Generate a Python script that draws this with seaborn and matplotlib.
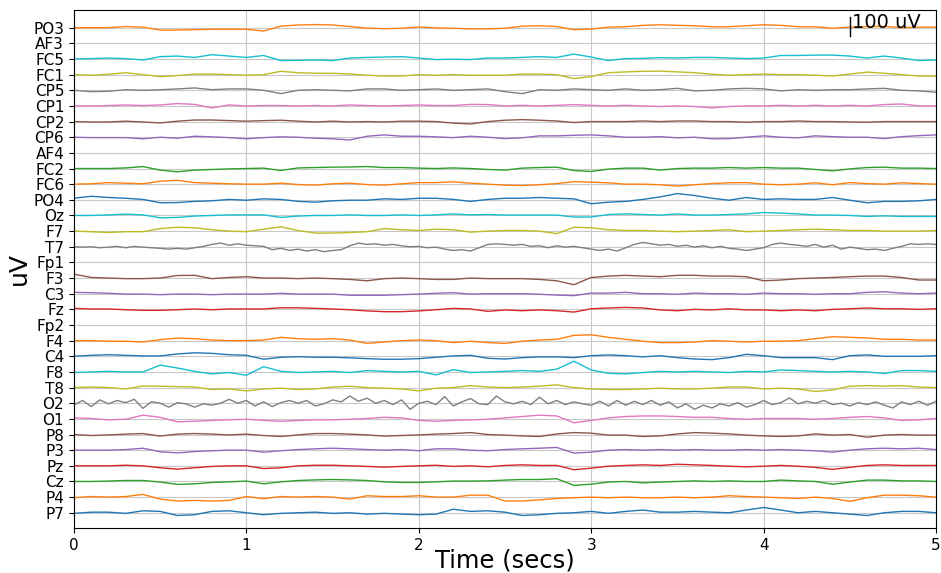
import numpy as np
import pandas as pd
import matplotlib
matplotlib.use('Agg')
import matplotlib.pyplot as plt
import seaborn as sns

# channel names, bottom of the plot first
channels = ['P7', 'P4', 'Cz', 'Pz', 'P3', 'P8', 'O1', 'O2', 'T8', 'F8', 'C4', 'F4',
            'Fp2', 'Fz', 'C3', 'F3', 'Fp1', 'T7', 'F7', 'Oz', 'PO4', 'FC6', 'FC2',
            'AF4', 'CP6', 'CP2', 'CP1', 'CP5', 'FC1', 'FC5', 'AF3', 'PO3']

# deviations from each channel's baseline in uV, evenly spaced over 0..5 s
po3 = [0, 0, 0, 6, 3, -12, -12, -10, -8, -8, -8, -17, 8, 14, 16, 14, 6, -2, -5, -3,
       4, -1, -3, -6, -6, -3, 8, 10, 6, -10, -7, 3, 5, 12, 15, 12, 10, 5, 5, 10,
       15, 12, 5, 5, -3, 3, 5, 7, 0, 3, 3]
af3 = []
fc5 = [0, 2, 5, 2, -5, 12, 15, 8, 22, 15, 8, 18, -8, -7, -5, -8, 5, 8, 10, 12,
       5, -3, -1, -3, 5, 5, 8, 12, 8, 25, 10, -8, 2, 3, 7, 5, 8, 8, 5, 2,
       5, 18, 18, 20, 20, 15, 5, 15, 5, -8, -5]
fc1 = [0, -3, 2, 10, 0, -10, -5, 3, 3, 0, -3, 0, 17, 10, 7, 7, 3, -3, -7, -7,
       0, -3, 0, -3, -3, -3, 3, 3, 0, -20, -10, 10, 14, 17, 18, 14, 10, 2, -3, 0,
       3, 0, 0, -3, -7, 3, 13, 7, 0, -7, -8]
cp5 = [0, -7, -5, 3, 0, 3, 7, 12, 3, 7, 7, 0, -17, 0, 3, 0, -3, 7, 7, 0,
       3, 7, 0, 3, 7, -7, -17, 3, 0, 7, 3, 0, 7, 0, 3, 10, -3, 0, 7, 10,
       7, -3, 3, 0, 3, 3, 7, 10, 0, -3, -10]
cp1 = [0, 0, 2, 5, 2, 5, 12, 8, -10, 5, 0, 2, 2, 0, 2, 0, 5, 2, 0, 2,
       5, 2, 2, 8, 7, 0, 3, 0, 3, 7, 3, 0, 3, 0, -3, 0, -3, -10, -3, 0,
       0, 3, 0, 3, 0, 3, 0, 7, 10, 0, 0]
cp2 = [0, -2, -2, 2, -2, -7, 2, 8, 8, 5, 2, 5, 7, 2, -2, 2, -2, 0, -2, 2,
       2, 0, -8, -12, 0, 7, 10, 7, 3, -5, 0, 0, 0, 3, 0, 3, 3, 0, 0, -3,
       0, 0, 3, 0, 0, -2, -3, 0, 0, 0, 0]
cp6 = [0, -2, -2, -2, -8, 0, -5, 5, 2, -2, -8, -2, 2, 0, -5, -8, -14, 5, 12, 5,
       5, 2, -2, 5, 0, -7, -3, 7, 7, 10, 12, 7, 0, 0, 3, -3, 0, -8, -7, 0,
       7, 0, -3, 7, 3, 0, 0, -7, 3, 8, 12]
af4 = []
fc2 = [0, 0, 0, 3, 10, -8, -17, -8, -5, -2, 0, 2, -10, 3, 5, 7, 8, 10, 5, 5,
       2, 0, 3, 0, -5, -8, 2, 5, 7, -10, -15, -3, 2, 2, -8, 0, 2, 2, 5, 2,
       5, 2, 2, -5, -12, -2, 5, 7, 2, 2, 0]
fc6 = [0, 2, 8, 5, 2, 15, 20, 8, 5, 2, 0, 0, 5, -2, -5, 2, 5, -2, -5, 2,
       8, 8, 12, 5, 0, -5, -7, -3, 3, 13, 10, 7, 0, 0, -3, -10, -3, 3, 7, 8,
       0, -3, 0, 7, -3, 8, 3, 0, 7, 3, 0]
po4 = [8, 18, 12, 8, 2, -15, -14, -8, -5, 2, -2, 5, 2, -8, -12, -5, -2, -2, 5, 2,
       8, 8, 2, -8, 2, 8, 8, 12, 8, 5, -20, -12, -8, 2, 15, 32, 22, 8, -2, 12,
       2, 5, 2, 2, 12, -2, -15, -8, -8, -5, 2]
oz = [0, 0, 3, 7, 3, -12, -10, -3, 0, 3, 3, 3, -10, -3, 0, 0, 3, 0, 0, 3,
      0, 3, 8, 3, 5, 2, 2, 2, 2, -8, -8, 5, 8, 5, 2, 8, 2, 2, 5, 8,
      15, 12, 8, 2, 2, 0, -5, -2, -5, -5, -5]
f7 = [0, -3, -7, -3, -3, 13, 20, 17, 7, 0, -3, 10, 22, 3, -10, -10, -7, -3, 13, 7,
      3, 10, 7, -5, 0, 3, 3, 0, -13, 20, 17, 7, 3, 3, 0, -3, 0, 3, 7, -3,
      0, 3, 7, 10, 7, 3, 3, 0, 0, 0, 3]
t7 = [0, -2, 0, -5, -2, 2, -5, 2, -2, -5, -8, -12, -8, -12, -5, 2, 12, 19, 8, 15,
      8, 5, 2, -15, -8, -19, -12, -22, -15, -25, -19, -15, 5, 19, 12, 15, 8, 12, 5, 0,
      2, -5, -2, -12, -19, -15, -22, -5, 12, 15, 12, 8, 12, 2, 5, -5, 5,
      -2, 2, -5, -12, -19, -12, -22, -5, 12, 22, 15, 8, 12, 2, 8, -2, 5, -5, 2, -8,
      -12, -19, -12, -5, 12, 19, 12, 8, 2, 12, -2, 8, -12, -2, -8, -15, -12, -19, -8, 2,
      15, 12, 15, 12]
fp1 = []
f3 = [20, 3, 0, -3, -3, 0, 13, 14, -3, 3, 7, 0, 0, -3, 0, -3, -7, -14, -3, 0,
      -3, -7, -7, 0, -3, -3, -3, -7, -14, -34, 3, 10, 14, 10, 7, 14, 14, 10, 10, 7,
      -14, -10, -3, 0, 3, 7, 10, 10, 3, -10, -10]
c3 = [7, 5, 2, -2, -2, -5, -2, -2, -5, -2, -2, -2, 2, -2, -2, -2, -8, -8, -8, -5,
      -2, 2, 5, -2, 0, 0, 0, -3, -7, -10, 3, 3, 7, 0, 0, -3, 3, 0, 0, -3,
      3, 0, 0, -3, 0, 0, 7, 10, 3, 0, 3]
fz = [5, 2, 2, -2, -5, -5, -2, 2, -2, 2, 2, 2, 8, 8, 5, 2, -2, -8, -12, -12,
      -8, -2, 5, 2, -10, -3, -7, -3, -7, -14, 3, 7, 10, 7, -3, -7, 0, -3, 3, -3,
      -3, -7, -3, -7, 0, 3, 7, 3, 3, 0, 3]
fp2 = []
f4 = [0, 0, -3, -3, -7, 5, 13, 10, 3, 0, 0, 3, 17, 10, 7, 10, 3, -14, -7, 0,
      3, 0, -10, -3, -10, -14, -3, 3, 7, 27, 30, 17, 7, -3, -10, -10, -7, 0, -3, -7,
      -3, -3, 0, 10, 20, 17, 14, 7, 7, 3, 3]
c4 = [0, 5, 8, 5, 2, 2, 12, 18, 15, 8, 5, -15, -5, -2, -5, -5, -8, -12, -15, -15,
      -12, -5, 2, 5, -10, -14, -7, -3, -3, -7, 3, 7, 3, -3, 3, -7, -14, -17, -7, 10,
      3, -7, -7, -7, -17, 3, 7, 0, 0, 0, 3]
f8 = [-3, 0, 3, 0, 0, 35, 20, 3, -10, -3, -17, 27, 3, -3, 0, 3, -3, 7, 3, 0,
      3, -15, 12, -3, 0, 3, 7, 3, 14, 55, 10, -7, -10, -3, 3, 0, 3, 0, -3, 3,
      0, 10, 7, 3, 0, 3, 0, -8, 7, 7, 3]
t8 = [0, 3, 0, -7, 8, 7, 5, 3, -10, -7, -17, -7, -3, -10, -7, 3, 7, 0, -3, -7,
      -17, -3, 0, 10, 3, 0, 3, 7, 14, 0, -7, -10, -10, -7, -3, -7, -7, -3, 3, 3,
      -7, -3, -7, -20, -12, 7, 10, 7, 10, 3, 0]
o2 = [-8, 14, -17, 17, -3, 14, 3, 20, -26, 8, 0, -20, 3, -3, -20, -3, -10, 0, 20, 0,
      14, -14, 7, -17, 3, 14, 0, 14, -14, -3, 17, 7, 37, 10, 26, 0, 14, -7, 17, -31,
      0, 10, -7, 34, -14, 7, 24, -3, -7, 37, 7, -3, 10, -7, 31, -3, 14,
      -7, 7, -3, -10, 10, -14, 14, -10, 10, -7, 14, -10, 7, -24, -3, -31, -10, -24, -3, -14,
      3, -20, -7, 14, -7, 3, 27, -3, 10, 0, 14, -7, 0, -14, 3, -7, 7, -10, -24, 7,
      -7, 10, -10, 10]
o1 = [5, 2, -5, -2, 19, 8, -15, -12, -8, -5, -2, -8, -12, -8, -5, -5, -2, 2, 8, 5,
      -8, -12, -8, -5, -2, 5, 12, 19, 15, -20, -8, 5, 12, 15, 15, 12, 8, 8, 2, -2,
      2, 2, 2, -2, 2, 8, 12, 5, -8, -5, 2]
p8 = [0, -5, -2, 2, 5, -8, 2, 5, 2, -2, 2, -5, -10, -2, 5, 5, 2, -2, -8, -5,
      -2, 2, 5, 10, 0, -3, -7, -10, 3, 10, 7, -3, -3, -10, -7, 3, 10, 7, 3, -3,
      -7, -10, -7, 3, -3, 0, -14, -3, 0, -3, -3]
p3 = [0, 0, 0, 3, 10, -8, -14, -7, -3, 0, 0, -10, -3, 3, 7, 10, 7, 3, 0, 3,
      -3, 7, 7, 0, -3, 3, 7, 10, 14, -15, -10, 0, 3, 0, 3, 0, 3, 0, 0, 3,
      0, 3, 0, -3, -10, 0, 7, 10, 7, 10, 3]
pz = [0, 0, 0, 3, 0, -10, -17, -10, -3, 0, 0, -14, -10, 0, 3, 3, 0, -3, -7, -3,
      0, 3, -3, 0, -5, 2, 5, 2, 2, -20, -12, -2, 2, 5, 2, 8, 5, 2, -2, -5,
      -2, 2, -2, -8, -18, -8, 2, 5, 2, 2, 2]
cz = [0, 0, 2, 5, 5, -3, -15, -12, -5, -2, 2, -12, -2, 5, 8, 10, 8, 5, -2, -5,
      -5, -2, 2, 2, 3, 7, 10, 10, 14, -20, -14, -3, 0, -7, -3, 0, 3, 0, 3, 0,
      0, 7, 3, 0, -14, -3, 7, 7, 3, 3, 0]
p4 = [-3, 3, 0, 3, 14, -10, -20, -17, -20, -17, 3, -8, 3, 0, 3, 0, -10, 7, 3, 3,
      7, 0, 0, 10, 10, -20, -20, -14, -7, -3, 0, -3, 0, -3, -3, 0, -3, 0, 7, 3,
      0, -3, -7, 0, -7, -22, -3, 10, 10, 7, 0]
p7 = [-3, 3, 3, -3, 10, 7, -14, -10, 7, 10, 0, -10, -3, 0, 3, -3, 0, -7, -3, -7,
      -10, -7, 18, 7, 10, 3, -14, -10, -3, 0, 7, -3, 7, 14, 3, 3, 7, 3, 0, 14,
      27, 14, 0, 7, 0, -7, -14, 0, 7, 7, 0]

traces = [p7, p4, cz, pz, p3, p8, o1, o2, t8, f8, c4, f4, fp2, fz, c3, f3, fp1,
          t7, f7, oz, po4, fc6, fc2, af4, cp6, cp2, cp1, cp5, fc1, fc5, af3, po3]

spacing = 80
colours = sns.color_palette('tab10', 10)

rows = []
for i, (name, vals) in enumerate(zip(channels, traces)):
    if len(vals) == 0:
        continue
    t = np.linspace(0, 5, len(vals))
    for tt, v in zip(t, vals):
        rows.append((tt, i * spacing + v, name))
df = pd.DataFrame(rows, columns=['time', 'uV', 'channel'])
palette = {name: colours[i % 10] for i, name in enumerate(channels)}

fig = plt.figure(figsize=(9.41, 5.73), dpi=100)
ax = fig.add_axes([0.0786, 0.0785, 0.9161, 0.9049])
ax.grid(True, color='#c8c8c8', linewidth=0.8)
ax.set_axisbelow(True)
sns.lineplot(data=df, x='time', y='uV', hue='channel', palette=palette,
             estimator=None, sort=False, legend=False, linewidth=1.0, ax=ax)

# 100 uV scale bar
ax.plot([4.5, 4.5], [2437, 2537], color='black', linewidth=1.0)
ax.text(4.515, 2478, '100 uV', fontsize=14, va='baseline')

ax.set_xlim(0, 5)
ax.set_ylim(-78, 2573)
ax.set_xticks(range(6))
ax.set_yticks([i * spacing for i in range(len(channels))])
ax.set_yticklabels(channels)
ax.tick_params(labelsize=11)
ax.set_xlabel('Time (secs)', fontsize=17.5, labelpad=-3)
ax.set_ylabel('uV', fontsize=18, labelpad=2)

fig.savefig('out.png', dpi=100)
